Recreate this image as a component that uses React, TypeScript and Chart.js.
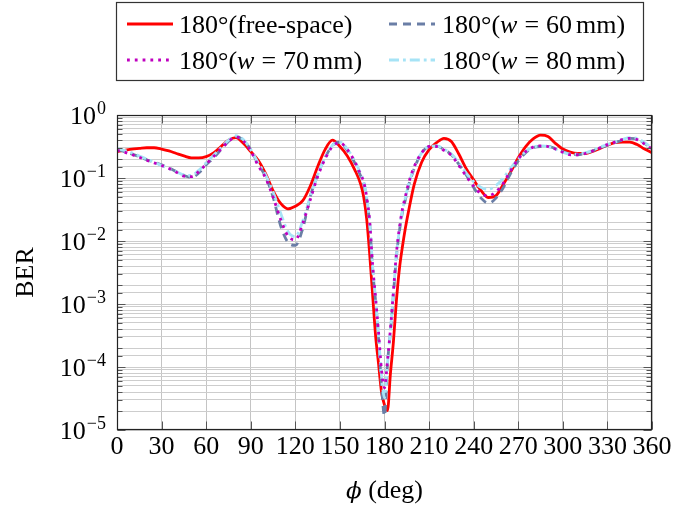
import { useEffect, useRef } from 'react';
import { Chart, registerables } from 'chart.js';

Chart.register(...registerables);

// azimuth angle phi (deg)
const phiDeg = [
  0, 5, 10, 15, 20, 25, 30, 35, 40, 45, 50, 55, 60, 65, 70, 75, 80, 85, 90, 95, 100, 105, 110, 115, 120, 125, 130,
  135, 140, 145, 150, 155, 160, 164, 166, 168, 170, 172, 174, 176, 178, 180, 182, 184, 186, 188, 190, 192, 194, 196,
  200, 205, 210, 215, 220, 225, 230, 235, 240, 245, 250, 255, 260, 265, 270, 275, 280, 285, 290, 295, 300, 305, 310,
  315, 320, 325, 330, 335, 340, 345, 350, 355, 360,
];

// 180°(free-space)
const berFreeSpace = [
  0.263, 0.275, 0.288, 0.295, 0.302, 0.302, 0.288, 0.269, 0.245, 0.224, 0.209, 0.209, 0.219, 0.251, 0.316, 0.398,
  0.437, 0.355, 0.263, 0.191, 0.117, 0.0631, 0.0398, 0.0324, 0.0355, 0.0437, 0.0741, 0.151, 0.282, 0.398, 0.316,
  0.224, 0.135, 0.0794, 0.0501, 0.0224, 0.00631, 0.00141, 3.16e-4, 1.12e-4, 3.98e-5, 2.51e-5, 2.04e-5, 7.94e-5,
  2.51e-4, 1.12e-3, 3.55e-3, 7.94e-3, 0.0158, 0.0282, 0.0794, 0.178, 0.282, 0.363, 0.427, 0.38, 0.24, 0.141, 0.0933,
  0.0631, 0.049, 0.0525, 0.0794, 0.126, 0.209, 0.316, 0.417, 0.479, 0.457, 0.355, 0.288, 0.257, 0.245, 0.245, 0.263,
  0.295, 0.331, 0.363, 0.372, 0.372, 0.339, 0.288, 0.251,
];

// 180°(w = 60 mm)
const berW60 = [
  0.282, 0.263, 0.24, 0.219, 0.195, 0.178, 0.162, 0.145, 0.126, 0.11, 0.102, 0.12, 0.162, 0.209, 0.282, 0.38, 0.457,
  0.398, 0.282, 0.166, 0.105, 0.0501, 0.0178, 0.00955, 0.00851, 0.0158, 0.0501, 0.112, 0.209, 0.331, 0.372, 0.275,
  0.174, 0.107, 0.0832, 0.0447, 0.0191, 0.00355, 0.00112, 2.82e-4, 5.01e-5, 1.66e-5, 1.12e-4, 3.55e-4, 1.41e-3,
  5.62e-3, 0.0141, 0.0282, 0.0447, 0.0724, 0.141, 0.251, 0.316, 0.324, 0.282, 0.234, 0.166, 0.112, 0.0708, 0.0479,
  0.0398, 0.0479, 0.0708, 0.12, 0.186, 0.251, 0.302, 0.316, 0.316, 0.295, 0.263, 0.24, 0.234, 0.245, 0.269, 0.302,
  0.331, 0.363, 0.398, 0.427, 0.417, 0.355, 0.295,
];

// 180°(w = 70 mm)
const berW70 = [
  0.275, 0.257, 0.234, 0.214, 0.191, 0.174, 0.158, 0.141, 0.123, 0.107, 0.105, 0.126, 0.166, 0.219, 0.288, 0.38,
  0.447, 0.389, 0.269, 0.158, 0.1, 0.0501, 0.0224, 0.012, 0.0105, 0.0191, 0.0447, 0.105, 0.2, 0.316, 0.363, 0.282,
  0.182, 0.112, 0.0871, 0.0501, 0.0209, 0.00417, 0.00126, 3.55e-4, 8.91e-5, 4.68e-5, 1.26e-4, 3.98e-4, 1.58e-3,
  6.31e-3, 0.0158, 0.0316, 0.0501, 0.0794, 0.151, 0.251, 0.316, 0.316, 0.275, 0.229, 0.158, 0.107, 0.0741, 0.0562,
  0.0525, 0.0603, 0.0832, 0.132, 0.2, 0.263, 0.309, 0.324, 0.316, 0.288, 0.257, 0.234, 0.234, 0.245, 0.269, 0.302,
  0.339, 0.372, 0.407, 0.427, 0.407, 0.347, 0.288,
];

// 180°(w = 80 mm)
const berW80 = [
  0.295, 0.275, 0.251, 0.224, 0.2, 0.178, 0.158, 0.141, 0.126, 0.112, 0.11, 0.132, 0.174, 0.229, 0.302, 0.398, 0.468,
  0.407, 0.282, 0.174, 0.112, 0.0603, 0.0282, 0.0141, 0.0117, 0.0209, 0.0501, 0.112, 0.209, 0.331, 0.372, 0.288,
  0.186, 0.117, 0.0891, 0.0501, 0.02, 0.00398, 0.0012, 3.16e-4, 7.08e-5, 3.24e-5, 1.12e-4, 3.8e-4, 1.51e-3, 6.03e-3,
  0.0151, 0.0302, 0.0479, 0.0759, 0.148, 0.251, 0.316, 0.324, 0.288, 0.24, 0.174, 0.12, 0.0871, 0.0708, 0.0661,
  0.0759, 0.1, 0.145, 0.2, 0.263, 0.309, 0.324, 0.316, 0.288, 0.257, 0.24, 0.24, 0.251, 0.275, 0.309, 0.339, 0.372,
  0.407, 0.437, 0.427, 0.363, 0.302,
];

const xTickValues = [0, 30, 60, 90, 120, 150, 180, 210, 240, 270, 300, 330, 360];
const yTickExponents = [0, -1, -2, -3, -4, -5];
const xTitle = ['ϕ', ' (deg)'];
const yTitle = 'BER';
const mmValues = ['60', '70', '80'];

const SERIF = "'Liberation Serif', 'Times New Roman', serif";
const FS = 26;
const R = `${FS}px ${SERIF}`;
const I = `italic ${FS}px ${SERIF}`;
const SUP = `18px ${SERIF}`;
const PHI_FONT = `italic 23px 'DejaVu Serif'`;

const COLORS = {
  red: '#ff0000',
  w60: '#6a7ea6',
  w70: '#bf00bf',
  w80: '#a6e3f6',
};
const DASH = {
  red: [] as number[],
  w60: [8, 6],
  w70: [2.8, 5],
  w80: [10, 4, 2.8, 4],
};

type Seg = string | [string, string] | number;

function drawSegs(ctx: CanvasRenderingContext2D, segs: Seg[], x: number, y: number) {
  let cx = x;
  for (const s of segs) {
    if (typeof s === 'number') {
      cx += s;
      continue;
    }
    const [t, f] = typeof s === 'string' ? [s, R] : s;
    ctx.font = f;
    ctx.fillText(t, cx, y);
    cx += ctx.measureText(t).width;
  }
}

function isDecade(v: number) {
  const l = Math.log10(v);
  return Math.abs(l - Math.round(l)) < 1e-6;
}

const decorPlugin = {
  id: 'decor',
  afterDraw(chart: any) {
    const { ctx, chartArea: a, scales } = chart;
    const xs = scales.x;
    const ys = scales.y;
    const L = Math.round(a.left) + 0.5;
    const Rr = Math.round(a.right) - 0.5;
    const T = Math.round(a.top) + 0.5;
    const B = Math.round(a.bottom) - 0.5;
    ctx.save();
    ctx.setLineDash([]);
    ctx.lineWidth = 1;
    ctx.strokeStyle = '#555';
    const line = (x1: number, y1: number, x2: number, y2: number) => {
      ctx.beginPath();
      ctx.moveTo(x1, y1);
      ctx.lineTo(x2, y2);
      ctx.stroke();
    };
    ys.ticks.forEach((t: any) => {
      const y = Math.round(ys.getPixelForValue(t.value)) + 0.5;
      const len = isDecade(t.value) ? 8 : 5;
      line(L, y, L + len, y);
      line(Rr, y, Rr - len, y);
    });
    xs.ticks.forEach((t: any) => {
      const x = Math.round(xs.getPixelForValue(t.value)) + 0.5;
      line(x, B, x, B - 8);
      line(x, T, x, T + 8);
    });
    // frame
    ctx.strokeStyle = '#222';
    ctx.lineWidth = 1.2;
    ctx.strokeRect(L, T, Rr - L, B - T);

    // tick labels
    ctx.fillStyle = '#000';
    ctx.textBaseline = 'alphabetic';
    ctx.textAlign = 'center';
    ctx.font = R;
    xs.ticks.forEach((t: any) => {
      const x = xs.getPixelForValue(t.value);
      ctx.fillText(String(t.value), x, a.bottom + 24);
    });
    ys.ticks.forEach((t: any) => {
      if (!isDecade(t.value)) return;
      const e = Math.round(Math.log10(t.value));
      if (!yTickExponents.includes(e)) return;
      const y = ys.getPixelForValue(t.value);
      const es = e === 0 ? '0' : '\u2212' + String(-e);
      ctx.font = SUP;
      const ew = ctx.measureText(es).width;
      const right = a.left - 11;
      ctx.textAlign = 'left';
      ctx.fillText(es, right - ew, y - 1);
      ctx.font = R;
      ctx.textAlign = 'right';
      ctx.fillText('10', right - ew - 1, y + 9);
    });

    // axis titles
    ctx.save();
    ctx.translate(33, (a.top + a.bottom) / 2);
    ctx.rotate(-Math.PI / 2);
    ctx.textAlign = 'center';
    ctx.font = R;
    ctx.fillText(yTitle, 0, 0);
    ctx.restore();

    ctx.textAlign = 'left';
    ctx.font = PHI_FONT;
    const pw = ctx.measureText(xTitle[0]).width;
    ctx.font = R;
    const dw = ctx.measureText(xTitle[1]).width;
    const cx = (a.left + a.right) / 2 - (pw + dw) / 2;
    drawSegs(ctx, [[xTitle[0], PHI_FONT], xTitle[1]], cx, 498);

    // legend
    ctx.strokeStyle = '#333';
    ctx.lineWidth = 1.2;
    ctx.strokeRect(116.5, 2.5, 527, 78);
    const rows = [24, 60];
    const sample = (x1: number, x2: number, y: number, color: string, dash: number[]) => {
      ctx.save();
      ctx.strokeStyle = color;
      ctx.lineWidth = 2.8;
      ctx.setLineDash(dash);
      ctx.beginPath();
      ctx.moveTo(x1, y);
      ctx.lineTo(x2, y);
      ctx.stroke();
      ctx.restore();
    };
    sample(127, 173, rows[0], COLORS.red, DASH.red);
    sample(127, 173, rows[1], COLORS.w70, DASH.w70);
    sample(389, 435, rows[0], COLORS.w60, DASH.w60);
    sample(389, 435, rows[1], COLORS.w80, DASH.w80);
    ctx.fillStyle = '#000';
    const wLabel = (mm: string): Seg[] => ['180°(', ['w', I], 7, '=', 7, mm, 4, 'mm)'];
    drawSegs(ctx, ['180°(free-space)'], 179, rows[0] + 8.5);
    drawSegs(ctx, wLabel(mmValues[1]), 179, rows[1] + 8.5);
    drawSegs(ctx, wLabel(mmValues[0]), 442, rows[0] + 8.5);
    drawSegs(ctx, wLabel(mmValues[2]), 442, rows[1] + 8.5);
    ctx.restore();
  },
};

export default function App() {
  const ref = useRef<HTMLCanvasElement | null>(null);
  useEffect(() => {
    if (!ref.current) return;
    const mk = (arr: number[]) => phiDeg.map((x, i) => ({ x, y: arr[i] }));
    const base = {
      pointRadius: 0,
      borderWidth: 2.8,
      fill: false,
      cubicInterpolationMode: 'monotone' as const,
      borderCapStyle: 'butt' as const,
    };
    const chart = new Chart(ref.current, {
      type: 'line',
      data: {
        datasets: [
          { ...base, label: '180°(w = 70 mm)', data: mk(berW70), borderColor: COLORS.w70, borderDash: DASH.w70, order: 1 },
          { ...base, label: '180°(w = 80 mm)', data: mk(berW80), borderColor: COLORS.w80, borderDash: DASH.w80, order: 2 },
          { ...base, label: '180°(w = 60 mm)', data: mk(berW60), borderColor: COLORS.w60, borderDash: DASH.w60, order: 3 },
          { ...base, label: '180°(free-space)', data: mk(berFreeSpace), borderColor: COLORS.red, borderDash: DASH.red, order: 4 },
        ],
      },
      options: {
        responsive: false,
        animation: false,
        devicePixelRatio: 1,
        layout: { padding: { top: 115, right: 35, left: 0, bottom: 0 } },
        plugins: { legend: { display: false }, tooltip: { enabled: false } },
        events: [],
        scales: {
          x: {
            type: 'linear',
            min: 0,
            max: 360,
            afterBuildTicks: (s: any) => {
              s.ticks = xTickValues.map((v) => ({ value: v }));
            },
            afterFit: (s: any) => {
              s.height = 76;
            },
            ticks: { display: false },
            grid: { color: '#c4c4c4', lineWidth: 1, drawTicks: false },
            border: { display: false },
          },
          y: {
            type: 'logarithmic',
            min: 1e-5,
            max: 1,
            afterFit: (s: any) => {
              s.width = 117;
            },
            ticks: { display: false, autoSkip: false },
            grid: { color: '#cdcdcd', lineWidth: 1, drawTicks: false },
            border: { display: false },
          },
        },
      },
      plugins: [decorPlugin],
    });
    return () => chart.destroy();
  }, []);
  return (
    <div style={{ position: 'absolute', left: 0, top: 0, width: 687, height: 506, background: '#fff' }}>
      <canvas ref={ref} width={687} height={506} style={{ display: 'block' }} />
    </div>
  );
}
